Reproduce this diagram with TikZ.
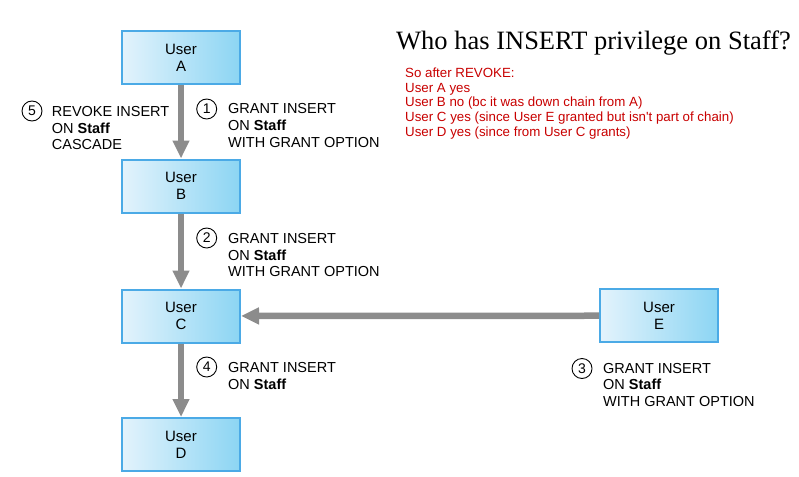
\documentclass[tikz,border=0pt]{standalone}
\usepackage{fontspec}
\setmainfont{Liberation Sans}
\newfontfamily\titlefont{Liberation Serif}
\newfontfamily\notefont{Liberation Sans}
\usetikzlibrary{arrows.meta}
\definecolor{boxborder}{HTML}{4BAAE6}
\definecolor{boxleft}{HTML}{E3F3FC}
\definecolor{boxright}{HTML}{8CD5F3}
\definecolor{arrowgray}{HTML}{8C8C8C}
\definecolor{notered}{HTML}{C80000}
\begin{document}
\begin{tikzpicture}[x=1pt,y=-1pt,
  userbox/.style={draw=boxborder, line width=2pt, left color=boxleft, right color=boxright,
    minimum width=118pt, minimum height=53pt, inner sep=0pt, align=center,
    font=\fontsize{15}{17.3}\selectfont},
  flow/.style={draw=arrowgray, line width=6.5pt, -{Triangle[width=16pt,length=18pt]}},
  num/.style={circle, draw, line width=0.9pt, minimum size=20pt, inner sep=0pt,
    font=\fontsize{14}{14}\selectfont},
  lbl/.style={anchor=north west, inner sep=0pt, align=left,
    font=\fontsize{14.5}{16.7}\selectfont}
]
\useasboundingbox (0,0) rectangle (799,476);

% users
\node[userbox] (A) at (181,57.5) {User\\A};
\node[userbox] (B) at (181,186) {User\\B};
\node[userbox] (C) at (181,316) {User\\C};
\node[userbox] (D) at (181,444.5) {User\\D};
\node[userbox] (E) at (659,315.7) {User\\E};

% connectors
\draw[flow] (A) -- (B);
\draw[flow] (B) -- (C);
\draw[flow] (C) -- (D);
\draw[flow] (E) -- (C);

% step labels
\node[num] (n1) at (206.7,109) {1};
\node[lbl] (t1) at (228,103.3) {GRANT INSERT\\ON \textbf{Staff}\\WITH GRANT OPTION};

\node[num] (n5) at (32,111) {5};
\node[lbl] (t5) at (51.7,106) {REVOKE INSERT\\ON \textbf{Staff}\\CASCADE};

\node[num] (n2) at (206.7,238) {2};
\node[lbl] (t2) at (228,233) {GRANT INSERT\\ON \textbf{Staff}\\WITH GRANT OPTION};

\node[num] (n4) at (206.7,367) {4};
\node[lbl] (t4) at (228,362.3) {GRANT INSERT\\ON \textbf{Staff}};

\node[num] (n3) at (582,368.5) {3};
\node[lbl] (t3) at (603,362.7) {GRANT INSERT\\ON \textbf{Staff}\\WITH GRANT OPTION};

% title
\node[anchor=base west, inner sep=0pt, font=\titlefont\fontsize{26.5}{26.5}\selectfont] (title) at (396,49.3) {Who has INSERT privilege on Staff?};

% note
\node[anchor=north west, inner sep=0pt, align=left, text=notered,
  font=\notefont\fontsize{13.3}{14.8}\selectfont] (note) at (405,67.5)
  {So after REVOKE:\\User A yes\\User B no (bc it was down chain from A)\\User C yes (since User E granted but isn't part of chain)\\User D yes (since from User C grants)};
\end{tikzpicture}
\end{document}
